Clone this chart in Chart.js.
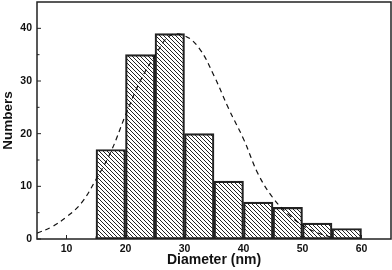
<!DOCTYPE html>
<html>
<head>
<meta charset="utf-8">
<script src="https://cdn.jsdelivr.net/npm/chart.js@4/dist/chart.umd.min.js"></script>
<style>
  body { margin: 0; background: #fff; }
  #box { width: 392px; height: 270px; }
</style>
</head>
<body>
<div id="box"><canvas id="grafico"></canvas></div>
<script>
// histogram bins (centre of each 5 nm bin) and counts
const binCenters = [17.5, 22.5, 27.5, 32.5, 37.5, 42.5, 47.5, 52.5, 57.5];
const counts = [17, 35, 39, 20, 11, 7, 6, 3, 2];

// dashed fit curve
const fitX = [5, 7.5, 10, 12.5, 15, 17.5, 20, 22.5, 25, 27.5, 30, 32.5, 35, 37.5, 40, 42.5, 45, 47.5, 50, 52.5, 55];
const fitY = [1.1, 2.3, 4.2, 6.8, 11.3, 16.5, 23.5, 30.0, 34.8, 38.6, 38.6, 36.2, 31.0, 24.7, 19.0, 12.3, 7.8, 4.8, 2.6, 1.2, 0.3];

const xTicks = [10, 20, 30, 40, 50, 60];
const xMinor = [15, 25, 35, 45, 55];
const yTicks = [0, 10, 20, 30, 40];
const yMinor = [5, 15, 25, 35];

function hachura() {
  const c = document.createElement("canvas");
  c.width = 4; c.height = 4;
  const g = c.getContext("2d");
  g.fillStyle = "#222";
  for (let i = 0; i < 4; i++) g.fillRect(i, i, 1, 1);
  return document.getElementById("grafico").getContext("2d").createPattern(c, "repeat");
}

const moldura = {
  id: "moldura",
  afterDraw(chart) {
    const { ctx, chartArea: a, scales: { x, y } } = chart;
    ctx.save();
    ctx.strokeStyle = "#222";
    ctx.lineWidth = 1;
    ctx.beginPath();
    yTicks.forEach(v => { const p = y.getPixelForValue(v); ctx.moveTo(a.left, p); ctx.lineTo(a.left + 4, p); });
    yMinor.forEach(v => { const p = y.getPixelForValue(v); ctx.moveTo(a.left, p); ctx.lineTo(a.left + 2.5, p); });
    xTicks.forEach(v => { const p = x.getPixelForValue(v); ctx.moveTo(p, a.bottom); ctx.lineTo(p, a.bottom - 4); });
    xMinor.forEach(v => { const p = x.getPixelForValue(v); ctx.moveTo(p, a.bottom); ctx.lineTo(p, a.bottom - 2.5); });
    ctx.stroke();
    ctx.lineWidth = 1.5;
    ctx.strokeRect(a.left, a.top, a.right - a.left, a.bottom - a.top);
    ctx.restore();
  }
};

const fonte = { family: "'Liberation Sans', Arial, sans-serif", weight: "bold" };

function semPadding(s) {
  s.paddingTop = 0; s.paddingBottom = 0; s.paddingLeft = 0; s.paddingRight = 0;
}

new Chart(document.getElementById("grafico"), {
  type: "bar",
  data: {
    datasets: [
      {
        type: "line",
        data: fitX.map((v, i) => ({ x: v, y: fitY[i] })),
        borderColor: "#111",
        borderWidth: 1.2,
        borderDash: [5, 4],
        pointRadius: 0,
        tension: 0.4,
        fill: false,
        order: 0
      },
      {
        data: binCenters.map((v, i) => ({ x: v, y: counts[i] })),
        backgroundColor: hachura(),
        borderColor: "#222",
        borderWidth: 1.5,
        borderSkipped: false,
        barPercentage: 1,
        categoryPercentage: 1,
        order: 1
      }
    ]
  },
  options: {
    responsive: true,
    maintainAspectRatio: false,
    animation: false,
    layout: { padding: { top: 2, right: 1 } },
    plugins: { legend: { display: false }, tooltip: { enabled: false } },
    scales: {
      x: {
        type: "linear",
        offset: false,
        min: 5,
        max: 65,
        afterBuildTicks: s => { s.ticks = xTicks.map(v => ({ value: v })); },
        afterFit: s => { s.height = 31; semPadding(s); },
        grid: { display: false, drawTicks: false },
        border: { display: false },
        ticks: { padding: 4, color: "#111", font: { ...fonte, size: 10.5 } },
        title: { display: true, text: "Diameter (nm)", color: "#111", padding: { top: 0, bottom: 1 }, font: { ...fonte, size: 14 } }
      },
      y: {
        min: 0,
        max: 45,
        afterBuildTicks: s => { s.ticks = yTicks.map(v => ({ value: v })); },
        afterFit: s => { s.width = 37; semPadding(s); },
        grid: { display: false, drawTicks: false },
        border: { display: false },
        ticks: { padding: 5, color: "#111", font: { ...fonte, size: 10.5 } },
        title: { display: true, text: "Numbers", color: "#111", padding: { top: 0, bottom: 0 }, font: { ...fonte, size: 13.5 } }
      }
    }
  },
  plugins: [moldura]
});
</script>
</body>
</html>
